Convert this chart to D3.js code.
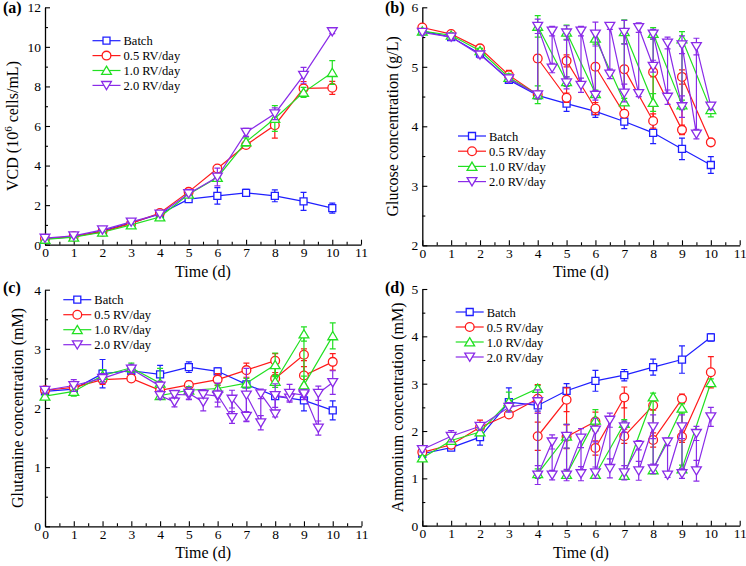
<!DOCTYPE html>
<html><head><meta charset="utf-8">
<script src="https://cdn.jsdelivr.net/npm/d3@7/dist/d3.min.js"></script>
<style>
html,body{margin:0;padding:0;background:#fff;}
svg{display:block;}
</style></head>
<body>
<svg id="chart" width="746" height="566"></svg>
<script>
// ---------------- DATA ----------------
const seriesNames = ["Batch", "0.5 RV/day", "1.0 RV/day", "2.0 RV/day"];
const xTickLabels = ["0","1","2","3","4","5","6","7","8","9","10","11"];
const days = [0,1,2,3,4,5,6,7,8,9,10];
const daysDaily = [0,1,2,3,4,4,5,5,6,6,7,7,8,8,9,9,10];
const daysHalf = [0,1,2,3,4,4,4.5,4.5,5,5,5.5,5.5,6,6,6.5,6.5,7,7,7.5,7.5,8,8,8.5,8.5,9,9,9.5,9.5,10];

// (a) VCD (10^6 cells/mL)
const vcdBatch = [0.30,0.40,0.70,1.10,1.55,2.30,2.47,2.62,2.47,2.19,1.85];
const vcdBatchErr = [0.05,0.05,0.05,0.08,0.08,0.15,0.42,0.18,0.30,0.45,0.25];
const vcd05 = [0.30,0.42,0.65,1.08,1.60,2.67,3.85,5.04,6.04,7.90,7.93];
const vcd05Err = [0.05,0.05,0.08,0.08,0.08,0.10,0.12,0.10,0.65,0.35,0.33];
const vcd10 = [0.27,0.38,0.63,1.00,1.40,2.55,3.40,5.20,6.38,7.70,8.70];
const vcd10Err = [0.05,0.05,0.05,0.08,0.08,0.10,0.15,0.20,0.65,0.25,0.60];
const vcd20 = [0.33,0.45,0.75,1.15,1.55,2.58,3.42,5.68,6.62,8.56,10.77];
const vcd20Err = [0.05,0.05,0.08,0.08,0.08,0.10,0.45,0.20,0.30,0.40,0.10];

// (b) Glucose (g/L)
const glcBatch = [5.60,5.50,5.22,4.78,4.52,4.38,4.25,4.08,3.89,3.62,3.35];
const glcBatchErr = [0.03,0.05,0.05,0.05,0.05,0.13,0.10,0.12,0.18,0.18,0.14];
const glc05 = [5.66,5.55,5.31,4.86,4.53,5.14,4.48,5.10,4.30,5.00,4.21,4.96,4.09,4.91,3.94,4.83,3.73];
const glc05Err = [0.03,0.04,0.04,0.08,0.05,0.06,0.08,0.10,0.10,0.06,0.06,0.06,0.12,0.08,0.08,0.12,0.05];
const glc10 = [5.60,5.53,5.27,4.82,4.53,5.68,4.75,5.58,4.55,5.48,4.41,5.59,4.40,5.56,4.36,5.47,4.28];
const glc10Err = [0.03,0.04,0.04,0.06,0.15,0.18,0.08,0.12,0.06,0.10,0.06,0.20,0.15,0.10,0.08,0.12,0.12];
const glc20 = [5.58,5.50,5.20,4.80,4.53,5.68,4.98,5.60,4.73,5.57,4.69,5.60,4.52,5.55,4.88,5.68,4.56,5.58,4.55,5.66,5.01,5.55,4.49,5.40,4.33,5.37,3.87,5.34,4.34];
const glc20Err = [0.03,0.05,0.05,0.06,0.05,0.12,0.08,0.08,0.10,0.12,0.12,0.08,0.08,0.20,0.08,0.05,0.15,0.20,0.05,0.08,0.10,0.08,0.12,0.10,0.18,0.15,0.08,0.14,0.06];

// (c) Glutamine (mM)
const glnBatch = [2.28,2.32,2.58,2.63,2.57,2.69,2.62,2.40,2.20,2.13,1.96];
const glnBatchErr = [0.05,0.08,0.24,0.08,0.15,0.09,0.06,0.05,0.05,0.18,0.16];
const gln05 = [2.30,2.35,2.48,2.50,2.30,2.39,2.48,2.64,2.80,2.50,2.90,2.55,2.78];
const gln05Err = [0.05,0.08,0.08,0.05,0.06,0.06,0.10,0.12,0.12,0.10,0.10,0.15,0.14];
const gln10 = [2.20,2.28,2.55,2.68,2.42,2.21,2.30,2.33,2.42,2.73,2.45,3.25,2.39,3.22];
const gln10Err = [0.05,0.08,0.10,0.08,0.25,0.05,0.06,0.06,0.08,0.20,0.10,0.12,0.15,0.22];
const gln20 = [2.30,2.38,2.50,2.66,2.37,2.21,2.10,2.23,2.22,2.25,2.10,2.23,2.20,2.22,1.84,2.15,1.86,2.22,1.75,2.24,1.90,2.21,2.17,2.25,2.22,2.24,1.66,2.25,2.43];
const gln20Err = [0.05,0.10,0.08,0.08,0.08,0.06,0.08,0.05,0.08,0.10,0.15,0.08,0.10,0.20,0.10,0.15,0.08,0.45,0.12,0.08,0.05,0.20,0.05,0.15,0.08,0.06,0.12,0.12,0.20];

// (d) Ammonium (mM)
const nhBatch = [1.52,1.65,1.87,2.61,2.54,2.85,3.06,3.18,3.35,3.51,3.98];
const nhBatchErr = [0.05,0.05,0.17,0.30,0.12,0.15,0.22,0.12,0.17,0.29,0.08];
const nh05 = [1.55,1.71,2.08,2.35,2.68,1.89,2.66,1.88,2.20,1.64,2.71,1.89,2.54,1.81,2.68,1.88,3.24];
const nh05Err = [0.05,0.08,0.15,0.05,0.30,0.30,0.25,0.25,0.20,0.15,0.22,0.15,0.10,0.15,0.10,0.12,0.33];
const nh10 = [1.43,1.80,1.98,2.62,2.90,1.10,1.89,1.08,2.23,1.08,2.16,1.06,2.72,1.18,2.48,1.20,3.02];
const nh10Err = [0.05,0.08,0.08,0.20,0.06,0.10,0.25,0.08,0.22,0.08,0.08,0.08,0.08,0.08,0.10,0.08,0.08];
const nh20 = [1.61,1.89,2.10,2.50,2.62,1.07,1.77,1.07,1.89,1.07,1.85,1.10,2.02,1.12,2.23,1.21,2.09,1.12,1.70,1.16,2.09,1.20,1.77,1.07,2.09,1.10,1.95,1.16,2.30];
const nh20Err = [0.05,0.12,0.08,0.10,0.25,0.20,0.15,0.10,0.25,0.12,0.20,0.15,0.25,0.12,0.15,0.20,0.12,0.15,0.10,0.20,0.25,0.10,0.08,0.05,0.25,0.10,0.15,0.22,0.20];

// ---------------- STYLE ----------------
const colors = ["#1f1fff", "#ff1a1a", "#22e022", "#8a2be8"];
const shapes = ["square", "circle", "up", "down"];
const FONT = "'Liberation Serif','Times New Roman',serif";

const svg = d3.select("#chart");

function markerPath(shape) {
  if (shape === "square") return "M-3.5,-3.5h7v7h-7z";
  if (shape === "circle") return d3.symbol(d3.symbolCircle, 60)();
  if (shape === "up") return "M0,-4.3L4.9,3.9L-4.9,3.9Z";
  return "M0,4.3L4.9,-3.9L-4.9,-3.9Z";
}

function drawPanel(cfg) {
  const g = svg.append("g");
  const x = d3.scaleLinear().domain([0, 11]).range([cfg.x0, cfg.x1]);
  const y = d3.scaleLinear().domain(cfg.yDomain).range([cfg.yBottom, cfg.yTop]);

  const xMinor = d3.range(0.5, 11, 1);
  g.append("g").attr("transform", `translate(0,${cfg.yBottom})`)
    .call(d3.axisBottom(x).tickValues(xMinor).tickSize(-3).tickFormat(""))
    .call(a => a.select(".domain").remove());
  g.append("g").attr("transform", `translate(${cfg.x0},0)`)
    .call(d3.axisLeft(y).tickValues(cfg.yMinor).tickSize(-3).tickFormat(""))
    .call(a => a.select(".domain").remove());

  const xa = g.append("g").attr("transform", `translate(0,${cfg.yBottom})`)
    .call(d3.axisBottom(x).tickValues(d3.range(0, 12)).tickSizeInner(-5).tickSizeOuter(0)
      .tickPadding(3).tickFormat((d, i) => xTickLabels[i]));
  const ya = g.append("g").attr("transform", `translate(${cfg.x0},0)`)
    .call(d3.axisLeft(y).tickValues(cfg.yTicks).tickSizeInner(-5).tickSizeOuter(0)
      .tickPadding(4).tickFormat(d3.format("d")));
  [xa, ya].forEach(a => {
    a.selectAll("text").attr("font-family", FONT).attr("font-size", 13.5).attr("fill", "#000");
    a.select(".domain").attr("stroke-width", 1.3);
  });
  g.selectAll(".tick line").attr("stroke", "#000").attr("stroke-width", 1.1);

  g.append("text").attr("x", (cfg.x0 + cfg.x1) / 2).attr("y", cfg.yBottom + 32)
    .attr("text-anchor", "middle").attr("font-family", FONT).attr("font-size", 16)
    .attr("font-weight", "normal").text("Time (d)");
  const yt = g.append("text")
    .attr("transform", `translate(${cfg.yTitleX},${(cfg.yTop + cfg.yBottom) / 2}) rotate(-90)`)
    .attr("text-anchor", "middle").attr("font-family", FONT).attr("font-size", 16)
    .attr("font-weight", "normal");
  cfg.yTitle(yt);

  g.append("text").attr("x", cfg.labelX).attr("y", cfg.labelY)
    .attr("font-family", FONT).attr("font-size", 16).attr("font-weight", "bold")
    .text(cfg.label);

  const line = d3.line().x(d => x(d[0])).y(d => y(d[1]));
  cfg.series.forEach((s, si) => {
    const pts = s.xs.map((xv, i) => [xv, s.ys[i], s.errs[i]]);
    const sg = g.append("g");
    sg.append("path").attr("d", line(pts)).attr("fill", "none")
      .attr("stroke", colors[si]).attr("stroke-width", 1.2);
    pts.forEach(p => {
      if (p[2] > 0) {
        const xx = x(p[0]), y1 = y(p[1] - p[2]), y2 = y(p[1] + p[2]);
        sg.append("path")
          .attr("d", `M${xx},${y1}V${y2}M${xx - 3},${y1}H${xx + 3}M${xx - 3},${y2}H${xx + 3}`)
          .attr("stroke", colors[si]).attr("stroke-width", 1.2).attr("fill", "none");
      }
    });
    sg.selectAll("path.mk").data(pts).join("path").attr("class", "mk")
      .attr("d", markerPath(shapes[si]))
      .attr("transform", d => `translate(${x(d[0])},${y(d[1])})`)
      .attr("fill", "#fff").attr("stroke", colors[si]).attr("stroke-width", 1.3);
  });

  seriesNames.forEach((name, i) => {
    const ly = cfg.legY + i * cfg.legDy;
    const lg = g.append("g");
    lg.append("line").attr("x1", cfg.legX).attr("x2", cfg.legX + 28).attr("y1", ly).attr("y2", ly)
      .attr("stroke", colors[i]).attr("stroke-width", 1.2);
    lg.append("path").attr("d", markerPath(shapes[i]))
      .attr("transform", `translate(${cfg.legX + 14},${ly})`)
      .attr("fill", "#fff").attr("stroke", colors[i]).attr("stroke-width", 1.3);
    lg.append("text").attr("x", cfg.legX + 31).attr("y", ly + 4.5)
      .attr("font-family", FONT).attr("font-size", 12.5).text(name);
  });
}

drawPanel({
  label: "(a)", labelX: 3, labelY: 13,
  x0: 45, x1: 361, yTop: 7.3, yBottom: 244.7, yDomain: [0, 12],
  yTicks: [0,2,4,6,8,10,12], yMinor: [1,3,5,7,9,11],
  yTitleX: 18,
  yTitle: t => { t.append("tspan").text("VCD (10"); t.append("tspan").attr("dy", -6).attr("font-size", 11).text("6");
                 t.append("tspan").attr("dy", 6).text(" cells/mL)"); },
  legX: 92.5, legY: 40.7, legDy: 14.9,
  series: [
    {xs: days, ys: vcdBatch, errs: vcdBatchErr},
    {xs: days, ys: vcd05, errs: vcd05Err},
    {xs: days, ys: vcd10, errs: vcd10Err},
    {xs: days, ys: vcd20, errs: vcd20Err}
  ]
});

drawPanel({
  label: "(b)", labelX: 385, labelY: 13,
  x0: 422.3, x1: 739.7, yTop: 7.3, yBottom: 245.3, yDomain: [2, 6],
  yTicks: [2,3,4,5,6], yMinor: [2.5,3.5,4.5,5.5],
  yTitleX: 398,
  yTitle: t => t.text("Glucose concentration (g/L)"),
  legX: 458, legY: 136, legDy: 15.2,
  series: [
    {xs: days, ys: glcBatch, errs: glcBatchErr},
    {xs: daysDaily, ys: glc05, errs: glc05Err},
    {xs: daysDaily, ys: glc10, errs: glc10Err},
    {xs: daysHalf, ys: glc20, errs: glc20Err}
  ]
});

drawPanel({
  label: "(c)", labelX: 3, labelY: 293,
  x0: 45, x1: 361.5, yTop: 289.7, yBottom: 526.3, yDomain: [0, 4],
  yTicks: [0,1,2,3,4], yMinor: [0.5,1.5,2.5,3.5],
  yTitleX: 23,
  yTitle: t => t.text("Glutamine concentration (mM)"),
  legX: 63.3, legY: 299.7, legDy: 15,
  series: [
    {xs: days, ys: glnBatch, errs: glnBatchErr},
    {xs: [0,1,2,3,4,5,6,7,8,8,9,9,10], ys: gln05, errs: gln05Err},
    {xs: [0,1,2,3,4,4,5,6,7,8,8,9,9,10], ys: gln10, errs: gln10Err},
    {xs: daysHalf, ys: gln20, errs: gln20Err}
  ]
});

drawPanel({
  label: "(d)", labelX: 385, labelY: 293,
  x0: 422.3, x1: 739.7, yTop: 289, yBottom: 525.7, yDomain: [0, 5],
  yTicks: [0,1,2,3,4,5], yMinor: [0.5,1.5,2.5,3.5,4.5],
  yTitleX: 403,
  yTitle: t => t.text("Ammonium concentration (mM)"),
  legX: 455.7, legY: 312, legDy: 15,
  series: [
    {xs: days, ys: nhBatch, errs: nhBatchErr},
    {xs: daysDaily, ys: nh05, errs: nh05Err},
    {xs: daysDaily, ys: nh10, errs: nh10Err},
    {xs: daysHalf, ys: nh20, errs: nh20Err}
  ]
});
</script>
</body></html>
